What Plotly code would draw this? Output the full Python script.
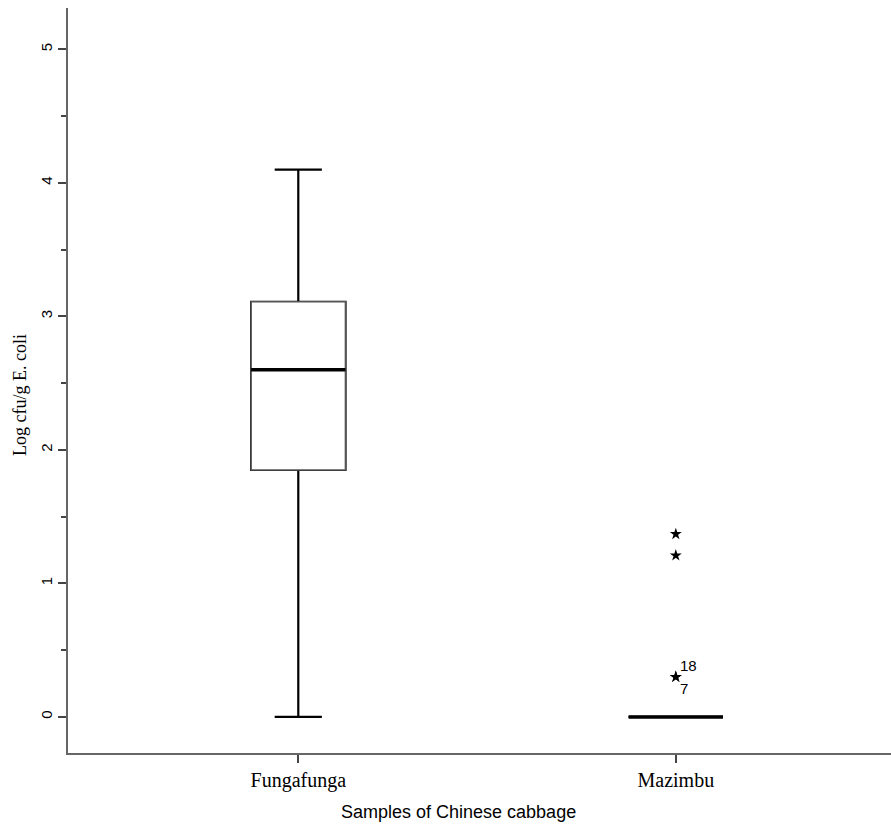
import plotly.graph_objects as go

# ---- data ----
categories = ["Fungafunga", "Mazimbu"]
q1 = [1.85, 0.0]
median = [2.60, 0.0]
q3 = [3.11, 0.0]
lower = [0.0, 0.0]
upper = [4.10, 0.0]

outlier_cat = ["Mazimbu", "Mazimbu", "Mazimbu", "Mazimbu"]
outlier_val = [1.37, 1.21, 0.30, 0.30]
outlier_lab = ["", "", "18", "7"]

y_ticks = [0, 1, 2, 3, 4, 5]

xpos = list(range(len(categories)))
BOXW = 0.25

fig = go.Figure()

fig.add_trace(go.Box(
    x=xpos, q1=q1, median=median, q3=q3, lowerfence=lower, upperfence=upper,
    width=BOXW, whiskerwidth=0.5, fillcolor="white",
    line=dict(color="black", width=2.2), boxpoints=False, showlegend=False,
    hoverinfo="skip",
))
# thinner gray box outline on top
fig.add_trace(go.Box(
    x=xpos, q1=q1, median=median, q3=q3, lowerfence=q1, upperfence=q3,
    width=BOXW, whiskerwidth=0, fillcolor="white",
    line=dict(color="#555", width=1.6), boxpoints=False, showlegend=False,
    hoverinfo="skip",
))
fig.update_layout(boxmode="overlay")

# thick median lines
for i, m in enumerate(median):
    fig.add_trace(go.Scatter(
        x=[xpos[i] - BOXW / 2, xpos[i] + BOXW / 2], y=[m, m], mode="lines",
        line=dict(color="black", width=3.5), showlegend=False, hoverinfo="skip"))

# outliers
cat_idx = {c: i for i, c in enumerate(categories)}
fig.add_trace(go.Scatter(
    x=[cat_idx[c] for c in outlier_cat], y=outlier_val, mode="markers",
    marker=dict(symbol="star", size=9, color="black"), showlegend=False,
))
for c, v, lab in zip(outlier_cat, outlier_val, outlier_lab):
    if not lab:
        continue
    up = lab == "18"
    fig.add_annotation(x=cat_idx[c], y=v, text=lab, showarrow=False,
                       xanchor="left", yanchor="bottom" if up else "top",
                       xshift=2, yshift=1 if up else -1,
                       font=dict(family="Liberation Sans, Arial", size=15, color="black"))

# axis titles
fig.add_annotation(xref="paper", yref="paper", x=(458 - 68) / 823, y=-(812 - 753) / 745,
                   text="Samples of Chinese cabbage", showarrow=False,
                   xanchor="center", yanchor="middle",
                   font=dict(family="Liberation Sans, Arial", size=18, color="black"))
fig.add_annotation(xref="paper", yref="paper", x=-(68 - 20) / 823, y=(753 - 395) / 745,
                   text="Log cfu/g E. coli", showarrow=False, textangle=-90,
                   xanchor="center", yanchor="middle",
                   font=dict(family="Liberation Serif, Times New Roman, serif", size=18, color="black"))

fig.update_layout(
    width=891, height=824,
    margin=dict(l=68, r=0, t=8, b=71),
    plot_bgcolor="white", paper_bgcolor="white",
    font=dict(family="Liberation Serif, Times New Roman, serif", color="black"),
)
fig.update_xaxes(
    range=[-0.61, 1.57], tickvals=xpos, ticktext=categories,
    showgrid=False, zeroline=False, showline=True, linecolor="#666", linewidth=2,
    ticks="outside", ticklen=8, tickwidth=1.5, tickcolor="#444",
    tickfont=dict(family="Liberation Serif, Times New Roman, serif", size=20),
)
fig.update_yaxes(
    range=[-0.27, 5.31], tickvals=y_ticks, ticktext=[str(t) for t in y_ticks],
    tickangle=-90,
    showgrid=False, zeroline=False, showline=True, linecolor="#666", linewidth=2,
    ticks="outside", ticklen=8, tickwidth=1.5, tickcolor="#444",
    minor=dict(dtick=0.5, ticks="outside", ticklen=5, tickcolor="#444", showgrid=False),
    tickfont=dict(family="Liberation Sans, Arial", size=15),
)

fig.write_html("out.html", config={"displayModeBar": False},
               post_script="document.body.style.margin='0';")
